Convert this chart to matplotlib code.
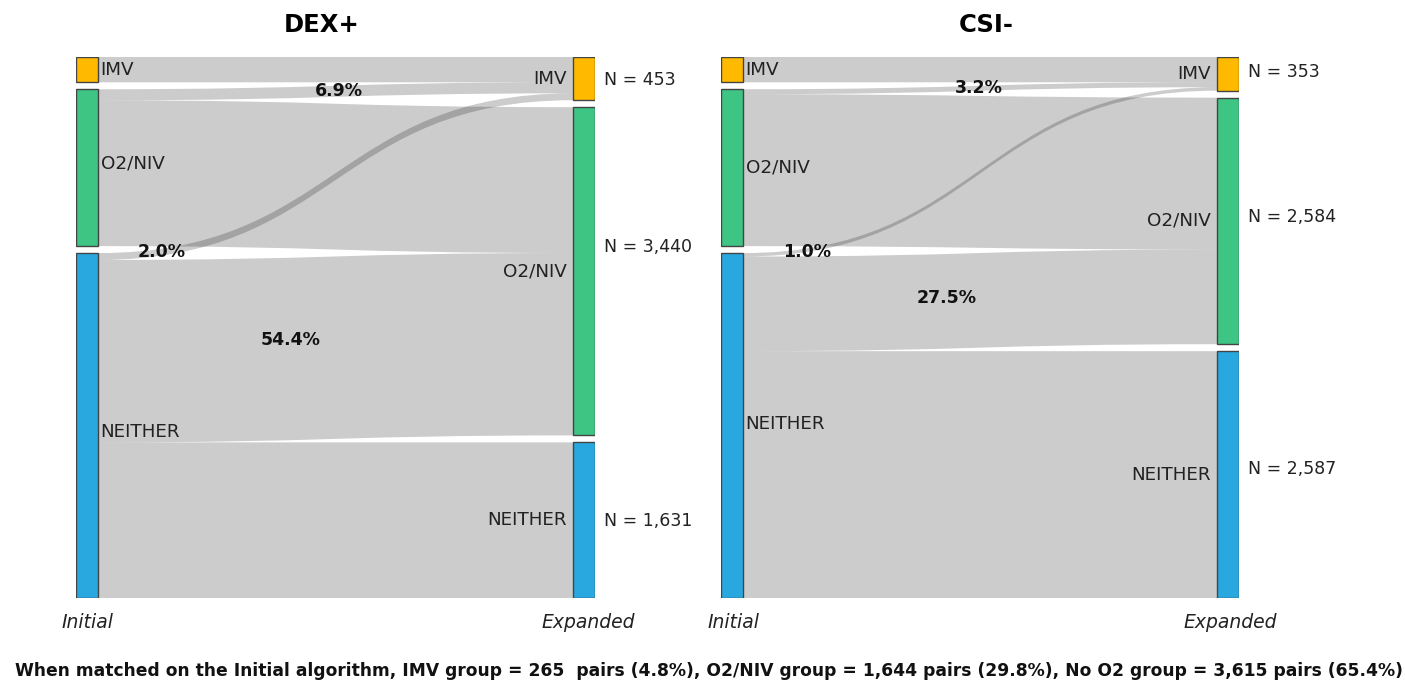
import numpy as np
import matplotlib
matplotlib.use('Agg')
import matplotlib.pyplot as plt
from matplotlib.path import Path
from matplotlib.patches import PathPatch, Rectangle

# Nodes (same categories on both sides)
nodes = ['IMV', 'O2/NIV', 'NEITHER']
node_colors = ['#FFBA00', '#3EC483', '#29A8E0']

# Initial counts (left column, shared)
initial_counts = [265, 1644, 3615]

# DEX+ flows: (source, target, value)
dex_links = [(0, 0, 265), (1, 0, 116), (1, 1, 1528),
             (2, 0, 72), (2, 1, 1912), (2, 2, 1631)]
dex_n = ['N = 453', 'N = 3,440', 'N = 1,631']
dex_pct = ['6.9%', '2.0%', '54.4%']

# CSI- flows
csi_links = [(0, 0, 265), (1, 0, 52), (1, 1, 1592),
             (2, 0, 36), (2, 1, 992), (2, 2, 2587)]
csi_n = ['N = 353', 'N = 2,584', 'N = 2,587']
csi_pct = ['3.2%', '1.0%', '27.5%']

caption = ('When matched on the Initial algorithm, IMV group = 265  pairs (4.8%), '
           'O2/NIV group = 1,644 pairs (29.8%), No O2 group = 3,615 pairs (65.4%)')

W, H = 1405, 690
GAP = 73          # node padding in count units
NODE_W = 22 / 519  # node width in axis fraction
LABEL_FONT = 'DejaVu Sans'


def node_positions(counts):
    pos = []
    y = 0
    for c in counts:
        pos.append((y, y + c))
        y += c + GAP
    return pos


def draw_sankey(ax, links, n_labels, pct_labels, pct_xy, n_dy, left_dy):
    n = len(nodes)
    tgt_counts = [sum(v for s, t, v in links if t == j) for j in range(n)]
    src_pos = node_positions(initial_counts)
    tgt_pos = node_positions(tgt_counts)
    total = sum(initial_counts) + GAP * (n - 1)

    # offsets for stacking links at each node
    src_off = [p[0] for p in src_pos]
    tgt_off = [p[0] for p in tgt_pos]
    x0, x1 = NODE_W, 1 - NODE_W
    xm = (x0 + x1) / 2
    # source side ordered by target, target side ordered by source
    src_rng = {}
    for s, t, v in sorted(links, key=lambda l: (l[0], l[1])):
        src_rng[(s, t)] = (src_off[s], src_off[s] + v)
        src_off[s] += v
    tgt_rng = {}
    for s, t, v in sorted(links, key=lambda l: (l[1], l[0])):
        tgt_rng[(s, t)] = (tgt_off[t], tgt_off[t] + v)
        tgt_off[t] += v

    for s, t, v in links:
        a0, a1 = src_rng[(s, t)]
        b0, b1 = tgt_rng[(s, t)]
        verts = [(x0, a0), (xm, a0), (xm, b0), (x1, b0),
                 (x1, b1), (xm, b1), (xm, a1), (x0, a1), (x0, a0)]
        codes = [Path.MOVETO, Path.CURVE4, Path.CURVE4, Path.CURVE4,
                 Path.LINETO, Path.CURVE4, Path.CURVE4, Path.CURVE4,
                 Path.CLOSEPOLY]
        ax.add_patch(PathPatch(Path(verts, codes), facecolor=(0, 0, 0, 0.2),
                               edgecolor='none', lw=0))

    for i in range(n):
        y0, y1 = src_pos[i]
        ax.add_patch(Rectangle((0, y0), NODE_W, y1 - y0, facecolor=node_colors[i],
                               edgecolor='#444444', lw=1, zorder=3))
        ax.text(NODE_W + 0.005, (y0 + y1) / 2 + left_dy[i], nodes[i], ha='left', va='center',
                fontsize=13.2, family=LABEL_FONT, color='#222222', zorder=4)
        y0, y1 = tgt_pos[i]
        ax.add_patch(Rectangle((1 - NODE_W, y0), NODE_W, y1 - y0, facecolor=node_colors[i],
                               edgecolor='#444444', lw=1, zorder=3))
        ax.text(1 - NODE_W - 0.012, (y0 + y1) / 2, nodes[i], ha='right', va='center',
                fontsize=13.2, family=LABEL_FONT, color='#222222', zorder=4)
        ax.text(1 + 0.018, (y0 + y1) / 2 + n_dy[i], n_labels[i], ha='left', va='center',
                fontsize=12.5, family=LABEL_FONT, color='#222222', clip_on=False)

    for lab, (px, py) in zip(pct_labels, pct_xy):
        ax.text(px, py, lab, transform=ax.transAxes, ha='center', va='center',
                fontsize=12.5, fontweight='bold', family='DejaVu Sans', color='#111111')

    ax.set_xlim(0, 1)
    ax.set_ylim(total, 0)
    ax.axis('off')


fig = plt.figure(figsize=(W / 100, H / 100), dpi=100)

top, bot = 57, 598
ax1 = fig.add_axes([76 / W, 1 - bot / H, 519 / W, (bot - top) / H])
ax2 = fig.add_axes([721 / W, 1 - bot / H, 518 / W, (bot - top) / H])


def ax_xy(px, py, left, width=519):
    return ((px - left) / width, (bot - py) / (bot - top))


draw_sankey(ax1, dex_links, dex_n, dex_pct,
            [ax_xy(339, 91, 76), ax_xy(162, 252, 76), ax_xy(291, 340, 76)],
            [15, -250, 10], [0, -40, 70])
draw_sankey(ax2, csi_links, csi_n, csi_pct,
            [ax_xy(979, 88, 721, 518), ax_xy(807, 252, 721, 518), ax_xy(947, 298, 721, 518)],
            [-20, -40, -60], [0, 0, -20])

fig.text(322 / W, 1 - 25 / H, 'DEX+', ha='center', va='center', fontsize=17.5,
         fontweight='heavy', family='DejaVu Sans')
fig.text(986 / W, 1 - 25 / H, 'CSI-', ha='center', va='center', fontsize=17.5,
         fontweight='heavy', family='DejaVu Sans')

for x, lab in [(62, 'Initial'), (541, 'Expanded'), (708, 'Initial'), (1183, 'Expanded')]:
    fig.text(x / W, 1 - 623 / H, lab, ha='left', va='center', fontsize=13.5,
             style='italic', family='DejaVu Sans', color='#222222')

fig.text(709 / W, 1 - 671 / H, caption, ha='center', va='center', fontsize=12.3,
         fontweight='bold', family='DejaVu Sans', color='#111111')

fig.savefig('out.png', dpi=100)
